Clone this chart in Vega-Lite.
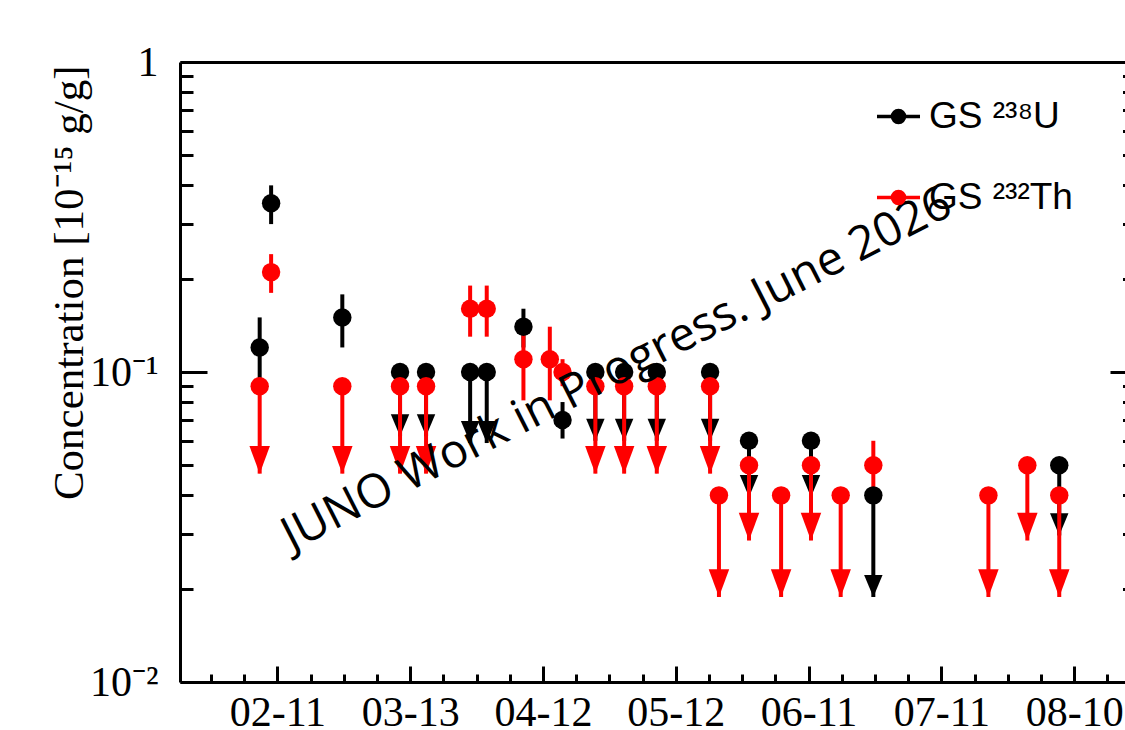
{
  "$schema": "https://vega.github.io/schema/vega-lite/v6.json",
  "width": 945,
  "height": 620,
  "autosize": {"type": "none"},
  "padding": {"left": 180, "top": 62, "right": 0, "bottom": 48},
  "background": "white",
  "config": {
    "view": {"stroke": null},
    "axis": {
      "grid": false,
      "domainColor": "black",
      "tickColor": "black",
      "labelColor": "black",
      "titleColor": "black",
      "domainWidth": 3,
      "tickWidth": 3,
      "labelFont": "Liberation Serif",
      "titleFont": "Liberation Serif",
      "labelFontSize": 42,
      "titleFontSize": 43,
      "titleFontWeight": "normal"
    }
  },
  "data": {
    "values": [
      {"iso": "U", "series": "GS ²³⁸U", "date": "2026-02-07T00:00:00Z", "value": 0.12, "lo": 0.09, "hi": 0.15, "limit": false},
      {"iso": "U", "series": "GS ²³⁸U", "date": "2026-02-09T14:00:00Z", "value": 0.35, "lo": 0.30, "hi": 0.40, "limit": false},
      {"iso": "U", "series": "GS ²³⁸U", "date": "2026-02-25T16:00:00Z", "value": 0.15, "lo": 0.12, "hi": 0.178, "limit": false},
      {"iso": "U", "series": "GS ²³⁸U", "date": "2026-03-10T17:00:00Z", "value": 0.1, "lo": 0.062, "hi": 0.1, "limit": true},
      {"iso": "U", "series": "GS ²³⁸U", "date": "2026-03-16T14:00:00Z", "value": 0.1, "lo": 0.062, "hi": 0.1, "limit": true},
      {"iso": "U", "series": "GS ²³⁸U", "date": "2026-03-26T13:00:00Z", "value": 0.1, "lo": 0.059, "hi": 0.1, "limit": true},
      {"iso": "U", "series": "GS ²³⁸U", "date": "2026-03-30T07:00:00Z", "value": 0.1, "lo": 0.059, "hi": 0.1, "limit": true},
      {"iso": "U", "series": "GS ²³⁸U", "date": "2026-04-07T14:00:00Z", "value": 0.14, "lo": 0.12, "hi": 0.16, "limit": false},
      {"iso": "U", "series": "GS ²³⁸U", "date": "2026-04-16T10:00:00Z", "value": 0.07, "lo": 0.061, "hi": 0.08, "limit": false},
      {"iso": "U", "series": "GS ²³⁸U", "date": "2026-04-23T20:00:00Z", "value": 0.1, "lo": 0.06, "hi": 0.1, "limit": true},
      {"iso": "U", "series": "GS ²³⁸U", "date": "2026-04-30T08:00:00Z", "value": 0.1, "lo": 0.06, "hi": 0.1, "limit": true},
      {"iso": "U", "series": "GS ²³⁸U", "date": "2026-05-07T17:00:00Z", "value": 0.1, "lo": 0.06, "hi": 0.1, "limit": true},
      {"iso": "U", "series": "GS ²³⁸U", "date": "2026-05-19T18:00:00Z", "value": 0.1, "lo": 0.06, "hi": 0.1, "limit": true},
      {"iso": "U", "series": "GS ²³⁸U", "date": "2026-05-28T13:00:00Z", "value": 0.06, "lo": 0.0395, "hi": 0.06, "limit": true},
      {"iso": "U", "series": "GS ²³⁸U", "date": "2026-06-11T13:00:00Z", "value": 0.06, "lo": 0.0395, "hi": 0.06, "limit": true},
      {"iso": "U", "series": "GS ²³⁸U", "date": "2026-06-25T15:00:00Z", "value": 0.04, "lo": 0.0188, "hi": 0.04, "limit": true},
      {"iso": "U", "series": "GS ²³⁸U", "date": "2026-08-06T15:00:00Z", "value": 0.05, "lo": 0.0297, "hi": 0.05, "limit": true},
      {"iso": "Th", "series": "GS ²³²Th", "date": "2026-02-07T00:00:00Z", "value": 0.09, "lo": 0.047, "hi": 0.09, "limit": true},
      {"iso": "Th", "series": "GS ²³²Th", "date": "2026-02-09T14:00:00Z", "value": 0.21, "lo": 0.18, "hi": 0.24, "limit": false},
      {"iso": "Th", "series": "GS ²³²Th", "date": "2026-02-25T16:00:00Z", "value": 0.09, "lo": 0.047, "hi": 0.09, "limit": true},
      {"iso": "Th", "series": "GS ²³²Th", "date": "2026-03-10T17:00:00Z", "value": 0.09, "lo": 0.047, "hi": 0.09, "limit": true},
      {"iso": "Th", "series": "GS ²³²Th", "date": "2026-03-16T14:00:00Z", "value": 0.09, "lo": 0.047, "hi": 0.09, "limit": true},
      {"iso": "Th", "series": "GS ²³²Th", "date": "2026-03-26T13:00:00Z", "value": 0.16, "lo": 0.13, "hi": 0.19, "limit": false},
      {"iso": "Th", "series": "GS ²³²Th", "date": "2026-03-30T07:00:00Z", "value": 0.16, "lo": 0.13, "hi": 0.19, "limit": false},
      {"iso": "Th", "series": "GS ²³²Th", "date": "2026-04-07T14:00:00Z", "value": 0.11, "lo": 0.081, "hi": 0.14, "limit": false},
      {"iso": "Th", "series": "GS ²³²Th", "date": "2026-04-13T13:00:00Z", "value": 0.11, "lo": 0.081, "hi": 0.14, "limit": false},
      {"iso": "Th", "series": "GS ²³²Th", "date": "2026-04-16T10:00:00Z", "value": 0.1, "lo": 0.09, "hi": 0.11, "limit": false},
      {"iso": "Th", "series": "GS ²³²Th", "date": "2026-04-23T20:00:00Z", "value": 0.09, "lo": 0.047, "hi": 0.09, "limit": true},
      {"iso": "Th", "series": "GS ²³²Th", "date": "2026-04-30T08:00:00Z", "value": 0.09, "lo": 0.047, "hi": 0.09, "limit": true},
      {"iso": "Th", "series": "GS ²³²Th", "date": "2026-05-07T17:00:00Z", "value": 0.09, "lo": 0.047, "hi": 0.09, "limit": true},
      {"iso": "Th", "series": "GS ²³²Th", "date": "2026-05-19T18:00:00Z", "value": 0.09, "lo": 0.047, "hi": 0.09, "limit": true},
      {"iso": "Th", "series": "GS ²³²Th", "date": "2026-05-21T18:00:00Z", "value": 0.04, "lo": 0.0188, "hi": 0.04, "limit": true},
      {"iso": "Th", "series": "GS ²³²Th", "date": "2026-05-28T13:00:00Z", "value": 0.05, "lo": 0.0286, "hi": 0.05, "limit": true},
      {"iso": "Th", "series": "GS ²³²Th", "date": "2026-06-04T19:00:00Z", "value": 0.04, "lo": 0.0188, "hi": 0.04, "limit": true},
      {"iso": "Th", "series": "GS ²³²Th", "date": "2026-06-11T13:00:00Z", "value": 0.05, "lo": 0.0286, "hi": 0.05, "limit": true},
      {"iso": "Th", "series": "GS ²³²Th", "date": "2026-06-18T06:00:00Z", "value": 0.04, "lo": 0.0188, "hi": 0.04, "limit": true},
      {"iso": "Th", "series": "GS ²³²Th", "date": "2026-06-25T15:00:00Z", "value": 0.05, "lo": 0.04, "hi": 0.06, "limit": false},
      {"iso": "Th", "series": "GS ²³²Th", "date": "2026-07-21T15:00:00Z", "value": 0.04, "lo": 0.0188, "hi": 0.04, "limit": true},
      {"iso": "Th", "series": "GS ²³²Th", "date": "2026-07-30T10:00:00Z", "value": 0.05, "lo": 0.0286, "hi": 0.05, "limit": true},
      {"iso": "Th", "series": "GS ²³²Th", "date": "2026-08-06T15:00:00Z", "value": 0.04, "lo": 0.0188, "hi": 0.04, "limit": true}
    ]
  },
  "resolve": {"axis": {"x": "independent", "y": "independent"}},
  "layer": [
    {
      "transform": [{"filter": {"field": "iso", "equal": "U"}}],
      "mark": {"type": "rule", "color": "black", "strokeWidth": 4},
      "encoding": {
        "x": {
          "field": "date", "type": "temporal",
          "scale": {"type": "utc", "domain": [
            {"year": 2026, "month": 1, "date": 20, "hours": 0, "utc": true},
            {"year": 2026, "month": 8, "date": 21, "hours": 11, "minutes": 30, "utc": true}
          ]},
          "axis": {
            "orient": "bottom", "title": null, "format": "%m-%d",
            "values": [
              {"year": 2026, "month": 2, "date": 11, "utc": true},
              {"year": 2026, "month": 3, "date": 13, "utc": true},
              {"year": 2026, "month": 4, "date": 12, "utc": true},
              {"year": 2026, "month": 5, "date": 12, "utc": true},
              {"year": 2026, "month": 6, "date": 11, "utc": true},
              {"year": 2026, "month": 7, "date": 11, "utc": true},
              {"year": 2026, "month": 8, "date": 10, "utc": true}
            ],
            "tickSize": -16, "labelPadding": 26, "labelFlush": false, "labelOverlap": false
          }
        },
        "y": {
          "field": "lo", "type": "quantitative",
          "scale": {"type": "log", "domain": [0.01, 1]},
          "axis": {
            "orient": "left", "values": [0.01, 0.1, 1],
            "tickSize": -27, "labelPadding": 49,
            "labelExpr": "datum.value >= 0.5 ? '1' : datum.value >= 0.05 ? '10⁻¹' : '10⁻²'",
            "labelFlush": false, "labelOverlap": false,
            "title": "Concentration [10⁻¹⁵ g/g]",
            "titleAngle": 270, "titleAlign": "right", "titleBaseline": "alphabetic",
            "titleX": -98, "titleY": 3
          }
        },
        "y2": {"field": "hi"}
      }
    },
    {
      "transform": [{"filter": {"field": "iso", "equal": "U"}}, {"filter": "datum.limit"}],
      "mark": {"type": "point", "shape": "M-1,-2.4L1,-2.4L0,0Z", "filled": true, "color": "black", "size": 340, "opacity": 1, "strokeWidth": 0},
      "encoding": {
        "x": {
          "field": "date", "type": "temporal",
          "axis": {
            "orient": "bottom", "title": null, "labels": false, "domain": false, "tickSize": -8,
            "values": [
              {"year": 2026, "month": 1, "date": 27, "utc": true},
              {"year": 2026, "month": 2, "date": 3, "hours": 12, "utc": true},
              {"year": 2026, "month": 2, "date": 18, "hours": 12, "utc": true},
              {"year": 2026, "month": 2, "date": 26, "utc": true},
              {"year": 2026, "month": 3, "date": 5, "hours": 12, "utc": true},
              {"year": 2026, "month": 3, "date": 20, "hours": 12, "utc": true},
              {"year": 2026, "month": 3, "date": 28, "utc": true},
              {"year": 2026, "month": 4, "date": 4, "hours": 12, "utc": true},
              {"year": 2026, "month": 4, "date": 19, "hours": 12, "utc": true},
              {"year": 2026, "month": 4, "date": 27, "utc": true},
              {"year": 2026, "month": 5, "date": 4, "hours": 12, "utc": true},
              {"year": 2026, "month": 5, "date": 19, "hours": 12, "utc": true},
              {"year": 2026, "month": 5, "date": 27, "utc": true},
              {"year": 2026, "month": 6, "date": 3, "hours": 12, "utc": true},
              {"year": 2026, "month": 6, "date": 18, "hours": 12, "utc": true},
              {"year": 2026, "month": 6, "date": 26, "utc": true},
              {"year": 2026, "month": 7, "date": 3, "hours": 12, "utc": true},
              {"year": 2026, "month": 7, "date": 18, "hours": 12, "utc": true},
              {"year": 2026, "month": 7, "date": 26, "utc": true},
              {"year": 2026, "month": 8, "date": 2, "hours": 12, "utc": true},
              {"year": 2026, "month": 8, "date": 17, "hours": 12, "utc": true}
            ]
          }
        },
        "y": {
          "field": "lo", "type": "quantitative",
          "axis": {
            "orient": "left", "title": null, "labels": false, "domain": false, "tickSize": -13,
            "values": [0.02, 0.03, 0.04, 0.05, 0.06, 0.07, 0.08, 0.09, 0.2, 0.3, 0.4, 0.5, 0.6, 0.7, 0.8, 0.9]
          }
        }
      }
    },
    {
      "transform": [{"filter": {"field": "iso", "equal": "Th"}}],
      "mark": {"type": "rule", "color": "#ff0000", "strokeWidth": 4},
      "encoding": {
        "x": {
          "field": "date", "type": "temporal",
          "axis": {"orient": "top", "title": null, "labels": false, "ticks": false, "domain": true}
        },
        "y": {
          "field": "lo", "type": "quantitative",
          "axis": {"orient": "right", "title": null, "labels": false, "domain": false, "tickSize": -15, "values": [0.01, 0.1, 1]}
        },
        "y2": {"field": "hi"}
      }
    },
    {
      "transform": [{"filter": {"field": "iso", "equal": "Th"}}, {"filter": "datum.limit"}],
      "mark": {"type": "point", "shape": "M-1,-2.7L1,-2.7L0,0Z", "filled": true, "color": "#ff0000", "size": 420, "opacity": 1, "strokeWidth": 0},
      "encoding": {
        "x": {"field": "date", "type": "temporal", "axis": null},
        "y": {
          "field": "lo", "type": "quantitative",
          "axis": {
            "orient": "right", "title": null, "labels": false, "domain": false, "tickSize": -2.5,
            "values": [0.02, 0.03, 0.04, 0.05, 0.06, 0.07, 0.08, 0.09, 0.2, 0.3, 0.4, 0.5, 0.6, 0.7, 0.8, 0.9]
          }
        }
      }
    },
    {
      "mark": {"type": "point", "shape": "circle", "filled": true, "size": 340, "opacity": 1, "strokeWidth": 0},
      "encoding": {
        "x": {"field": "date", "type": "temporal", "axis": null},
        "y": {"field": "value", "type": "quantitative", "axis": null},
        "color": {
          "field": "series", "type": "nominal",
          "scale": {"domain": ["GS ²³⁸U", "GS ²³²Th"], "range": ["#000000", "#ff0000"]},
          "legend": {
            "orient": "none", "legendX": 700, "legendY": 36, "title": null, "padding": 0,
            "symbolType": "M-2.5,0L2.5,0M0.7,0A0.7,0.7,0,1,1,-0.7,0A0.7,0.7,0,1,1,0.7,0Z",
            "symbolSize": 296, "symbolStrokeWidth": 3.5, "symbolOpacity": 1,
            "labelFont": "Liberation Sans", "labelFontSize": 37, "labelColor": "black",
            "labelOffset": 12, "labelLimit": 500, "rowPadding": 43,
            "encode": {"symbols": {"update": {
              "fill": {"scale": "color", "field": "value"},
              "stroke": {"scale": "color", "field": "value"},
              "opacity": {"value": 1}
            }}}
          }
        }
      }
    },
    {
      "data": {"values": [{"label": "JUNO Work in Progress. June 2026"}]},
      "mark": {"type": "text", "font": "Open Sans", "fontSize": 47, "angle": -27, "align": "center", "baseline": "middle", "color": "black"},
      "encoding": {
        "x": {"datum": {"year": 2026, "month": 4, "date": 28, "hours": 17, "utc": true}, "type": "temporal", "axis": null},
        "y": {"datum": 0.1015, "type": "quantitative", "axis": null},
        "text": {"field": "label"}
      }
    }
  ]
}
